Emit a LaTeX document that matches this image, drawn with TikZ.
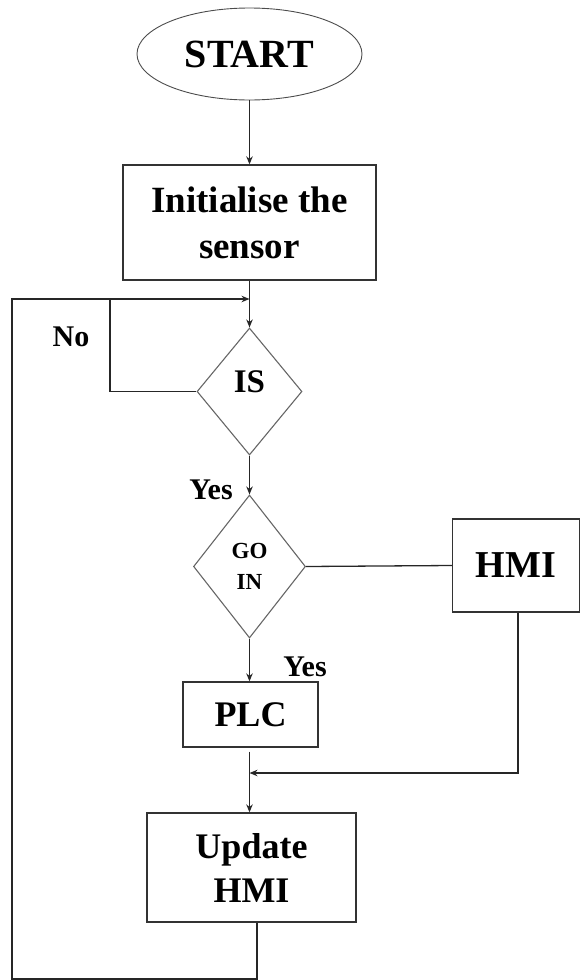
\documentclass[tikz,border=0pt]{standalone}
\usepackage{fontspec}
\setmainfont{Liberation Serif}
\usetikzlibrary{shapes.geometric,arrows.meta}
\begin{document}
\begin{tikzpicture}[x=1pt,y=-1pt,
  line/.style={draw=black!85, line width=1.3pt},
  arr/.style={line, -{Stealth[length=8pt,width=6.5pt]}},
  box/.style={draw=black!80, line width=1.3pt, rectangle, inner sep=0pt, align=center},
  dia/.style={draw=black!60, line width=1.1pt, diamond, inner sep=0pt, align=center},
  lbl/.style={font=\bfseries\fontsize{30}{32}\selectfont, inner sep=0pt}]
\useasboundingbox (0,0) rectangle (580,980);
\node[ellipse, draw=black!70, line width=0.9pt, minimum width=225pt, minimum height=92pt, inner sep=0pt, font=\bfseries\fontsize{40}{44}\selectfont] (start) at (249.5,54) {START};
\node[box, minimum width=253pt, minimum height=115pt, font=\bfseries\fontsize{37}{46}\selectfont] (init) at (249.5,222.5) {Initialise the\\sensor};
\node[dia, minimum width=105pt, minimum height=127pt, font=\bfseries\fontsize{33}{36}\selectfont, text height=22pt, text depth=20pt] (is) at (249.5,391.5) {IS};
\node[dia, minimum width=112pt, minimum height=143pt, font=\bfseries\fontsize{23}{31}\selectfont] (go) at (249.5,566.5) {GO\\IN};
\node[box, minimum width=127pt, minimum height=93pt, font=\bfseries\fontsize{38}{40}\selectfont] (hmi) at (516,565.5) {HMI};
\node[box, minimum width=135pt, minimum height=65pt, font=\bfseries\fontsize{36}{40}\selectfont] (plc) at (250.5,714.5) {PLC};
\node[box, minimum width=209pt, minimum height=109pt, font=\bfseries\fontsize{36}{44}\selectfont] (upd) at (251.5,867.5) {Update\\HMI};
\node[lbl] (no) at (71,337) {No};
\node[lbl] (yes1) at (211,490) {Yes};
\node[lbl] (yes2) at (305,667) {Yes};
\coordinate (j1) at (249.5,299);
\coordinate (nol) at (110,299);
\coordinate (lb) at (12,979);
\coordinate (j2) at (249.5,773);
\draw[arr] (start.south) -- (init.north);
\draw[line] (init.south) -- (j1);
\draw[arr] (j1) -- (is.north);
\draw[line] (is.west) -| (nol);
\draw[arr] ([xshift=5.5pt]upd.south) |- (lb) |- (j1);
\draw[arr] (is.south) -- (go.north);
\draw[line] (go.east) -- (hmi.west);
\draw[arr] (go.south) -- (go.south |- plc.north);
\draw[arr, shorten <=4pt] (plc.south -| j2) -- (j2 |- upd.north);
\draw[arr] ([xshift=2pt]hmi.south) |- (j2);
\end{tikzpicture}
\end{document}
